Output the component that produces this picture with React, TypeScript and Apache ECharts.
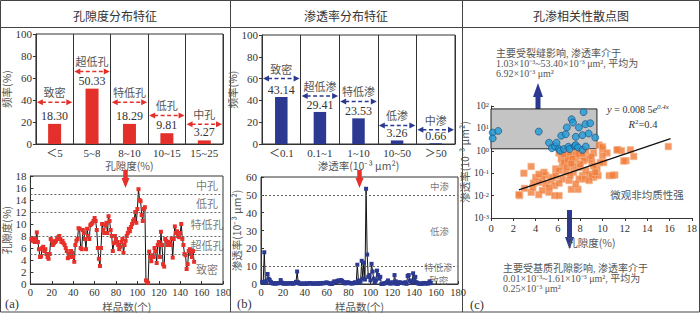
import React, { useEffect, useRef } from 'react';
import * as echarts from 'echarts';

const FONT = "'Liberation Serif', 'Noto Sans CJK SC', serif";
const CJK = "'Noto Sans CJK SC', 'Liberation Serif', sans-serif";

// ---- Panel (a) top: porosity class frequency
const poroCats = ['＜5', '5~8', '8~10', '10~15', '15~25'];
const poroFreq = [18.30, 50.33, 18.29, 9.81, 3.27];
const poroClassNames = ['致密', '超低孔', '特低孔', '低孔', '中孔'];
const poroClassArrowY = [38, 66, 38, 26, 18];

// ---- Panel (b) top: permeability class frequency
const permCats = ['＜0.1', '0.1~1', '1~10', '10~50', '＞50'];
const permFreq = [43.14, 29.41, 23.53, 3.26, 0.66];
const permClassNames = ['致密', '超低渗', '特低渗', '低渗', '中渗'];
const permClassArrowY = [60, 44, 39, 17, 13];

// ---- Panel (a) bottom: porosity per sample
const poroSeries = [
  7.5, 7.2, 7.6, 7.0, 7.5, 8.6, 7.0, 5.8, 4.5, 4.6,
  6.0, 6.2, 5.5, 5.8, 5.0, 4.5, 4.2, 5.0, 7.5, 7.2,
  6.5, 6.8, 7.0, 7.2, 7.5, 7.8, 8.0, 7.5, 7.0, 7.2,
  6.8, 6.5, 6.0, 5.5, 4.3, 5.0, 4.5, 5.5, 5.2, 4.5,
  3.7, 6.5, 7.2, 7.5, 9.3, 9.2, 6.0, 5.8, 9.0, 8.5,
  7.5, 5.8, 9.2, 8.0, 7.5, 9.8, 10.0, 10.2, 10.5, 11.0,
  10.5, 9.0, 6.0, 4.2, 3.0, 6.0, 10.0, 9.0, 8.5, 9.8,
  10.2, 8.5, 11.3, 10.5, 9.0, 8.0, 5.5, 6.8, 8.0, 7.5,
  7.0, 6.5, 5.8, 6.2, 7.0, 7.5, 5.2, 6.5, 7.2, 8.0,
  8.5, 9.2, 8.8, 9.5, 10.0, 10.5, 10.8, 12.0, 10.2, 12.5,
  15.8, 14.0, 13.8, 11.5, 10.5, 12.5, 12.8, 0.6, 0.4, 0.2,
  5.4, 4.5, 3.8, 4.8, 4.5, 6.0, 5.5, 3.5, 6.5, 7.0,
  4.5, 8.7, 6.5, 3.3, 2.9, 7.5, 7.2, 6.5, 7.0, 6.8,
  6.5, 7.6, 4.4, 7.5, 9.6, 8.5, 8.8, 8.0, 7.8, 8.5,
  10.0, 7.5, 6.5, 5.0, 4.8, 2.5, 3.3, 5.5, 5.8, 5.0,
  4.5, 5.5, 3.7,
];
const poroLimits = [5, 8, 12, 15];
const poroZoneLabels = ['中孔', '低孔', '特低孔', '超低孔', '致密'];
const poroZoneY = [16.5, 13.5, 10, 6.5, 2.5];
const poroZoneX = 165;

// ---- Panel (b) bottom: permeability per sample
const permSeries = [
  1.2, 0.8, 17.8, 1.5, 0.6, 5.6, 3.0, 2.2, 1.2, 0.5,
  0.3, 0.4, 0.2, 0.3, 0.5, 0.4, 0.6, 2.2, 0.8, 0.3,
  0.2, 0.4, 0.3, 0.2, 0.3, 0.5, 0.4, 0.3, 0.2, 0.3,
  0.5, 1.2, 7.0, 1.0, 0.3, 0.2, 0.1, 0.2, 0.3, 0.1,
  0.05, 0.2, 0.3, 0.4, 0.5, 0.3, 0.2, 0.1, 0.4, 0.3,
  0.2, 0.1, 0.5, 0.3, 0.2, 0.6, 0.4, 0.5, 0.7, 0.9,
  0.6, 0.4, 0.2, 0.1, 0.05, 0.8, 1.5, 1.2, 1.0, 1.8,
  2.0, 1.5, 2.2, 1.8, 1.2, 0.9, 0.3, 0.6, 1.0, 0.8,
  0.5, 0.4, 0.3, 0.4, 0.6, 1.0, 0.5, 10.8, 2.0, 0.8,
  1.5, 13.0, 3.0, 12.0, 2.5, 53.4, 16.5, 4.0, 5.0, 2.0,
  11.3, 7.0, 3.0, 1.0, 2.0, 7.5, 5.0, 3.0, 4.0, 0.02,
  0.01, 0.3, 0.4, 0.5, 1.0, 2.0, 0.8, 0.2, 0.5, 1.0,
  0.3, 5.0, 1.5, 0.1, 0.05, 1.0, 0.8, 0.6, 0.7, 0.5,
  0.4, 1.0, 0.1, 4.5, 5.0, 2.0, 1.5, 0.8, 6.0, 2.0,
  4.0, 1.0, 0.5, 0.2, 0.3, 0.05, 0.1, 0.4, 0.6, 0.3,
  0.2, 0.5, 0.3, 1.5, 0.5,
];
const permLimits = [10, 50];
const permZoneLabels = ['中渗', '低渗', '特低渗', '-致密'];
const permZoneY = [55, 30, 9.8, 2.4];
const permZoneX = [163, 163, 162, 161];

// ---- Panel (c): porosity (%) vs permeability (10^-3 μm²)
const fractureGroup = [
  [0.15, 6.5], [0.15, 3.6], [0.65, 7.7], [4.28, 7.2], [5.2, 2.3], [5.46, 1.3],
  [5.75, 1.55], [5.87, 2.3], [6.1, 1.2], [6.2, 1.0], [6.3, 4.7], [6.55, 1.2],
  [6.7, 5.5], [6.8, 11], [6.93, 1.5], [7.05, 1.2], [7.23, 25.7], [7.35, 18.2],
  [7.5, 1.65], [7.6, 4.2], [7.6, 1.8], [7.8, 1.4], [7.88, 11], [8.2, 5.0],
  [8.2, 1.1], [8.3, 53.4], [8.47, 15.5], [8.5, 1.55], [8.76, 5.9], [8.9, 17],
  [9.35, 3.9],
];
const matrixGroup = [
  [6.1, 0.8], [6.8, 0.8], [7.6, 0.85], [10.0, 1.17], [10.4, 0.8], [11.4, 1.1],
  [11.7, 1.0], [12.5, 1.1], [12.8, 0.56], [12.1, 0.36], [10.0, 0.6], [10.1, 0.3],
  [15.9, 1.55], [3.6, 0.2], [2.95, 0.1], [2.57, 0.01], [3.0, 0.021], [3.6, 0.014],
  [3.8, 0.036], [4.28, 0.011], [4.6, 0.017], [4.9, 0.08], [5.2, 0.014], [5.7, 0.01],
  [6.1, 0.01], [7.2, 0.019], [7.8, 0.019], [5.8, 0.155], [6.4, 0.21], [6.7, 0.11],
  [7.0, 0.3], [7.4, 0.11], [7.9, 0.18], [8.2, 0.078], [8.5, 0.13], [8.8, 0.09],
  [9.2, 0.065], [9.5, 0.155], [9.6, 0.078], [10.6, 0.078], [11.1, 0.083], [6.7, 0.5],
  [6.3, 0.43], [7.6, 0.43], [8.0, 0.6], [8.5, 0.5], [8.8, 0.43], [9.05, 0.3],
  [9.2, 0.21], [6.4, 0.055], [7.0, 0.047], [4.6, 0.055], [4.3, 0.039], [4.9, 0.033],
  [5.4, 0.047], [5.7, 0.028], [6.1, 0.036], [5.2, 0.023], [3.75, 0.023], [4.0, 0.065],
  [5.5, 0.065], [7.9, 0.055], [8.4, 0.055], [9.05, 0.078], [9.8, 0.3], [6.55, 0.3],
  [6.1, 0.13], [7.3, 0.7], [8.5, 1.0], [9.2, 0.8], [6.4, 1.0], [7.9, 0.9],
  [8.3, 0.36], [7.4, 0.21], [6.8, 0.18], [4.75, 0.11], [4.3, 0.09], [5.8, 0.078],
  [7.1, 0.078], [8.8, 0.047], [7.6, 0.033], [9.35, 0.11], [10.9, 0.08], [11.9, 0.35],
  [2.5, 0.011], [7.0, 0.65], [7.8, 0.7], [8.2, 0.75], [6.9, 0.4], [7.3, 0.45],
  [9.0, 0.55], [8.0, 0.25], [7.2, 0.27], [6.5, 0.7], [9.7, 1.8], [10.0, 1.5], [11.3, 1.1],
];
const trendLine = [[2.5, 0.018], [16.1, 3.5]];
const fractureBox = [[0, 1.23], [9.5, 74]];

function arrowRenderer(names: string[], color: string) {
  return (params: any, api: any) => {
    const p = api.coord([api.value(0), api.value(1)]);
    const w = api.size([1, 0])[0];
    const xl = p[0] - w / 2 + 1;
    const xr = p[0] + w / 2 - 1;
    const y = p[1];
    return {
      type: 'group',
      children: [
        { type: 'line', shape: { x1: xl + 5, y1: y, x2: xr - 5, y2: y }, style: { stroke: color, lineWidth: 1.5, lineDash: [4, 2.5] } },
        { type: 'polygon', shape: { points: [[xl, y], [xl + 6, y - 3], [xl + 6, y + 3]] }, style: { fill: color } },
        { type: 'polygon', shape: { points: [[xr, y], [xr - 6, y - 3], [xr - 6, y + 3]] }, style: { fill: color } },
        {
          type: 'text', x: p[0], y: y - 10,
          style: { text: names[params.dataIndex], fill: '#555', fontSize: 11, fontFamily: CJK, align: 'center', verticalAlign: 'middle' },
        },
      ],
    };
  };
}

function fatArrow(cx: number, yTail: number, yTip: number, shaftW: number, headW: number, headLen: number, color: string) {
  const dir = yTip > yTail ? 1 : -1;
  const yb = yTip - dir * headLen;
  return {
    type: 'polygon',
    shape: {
      points: [
        [cx - shaftW / 2, yTail], [cx + shaftW / 2, yTail], [cx + shaftW / 2, yb],
        [cx + headW / 2, yb], [cx, yTip], [cx - headW / 2, yb], [cx - shaftW / 2, yb],
      ],
    },
    style: { fill: color },
  };
}

function txt(x: number, y: number, text: string, opts: any = {}) {
  return {
    type: 'text', x, y,
    style: {
      text, fill: opts.fill || '#444', fontSize: opts.fontSize || 10, fontFamily: opts.fontFamily || FONT,
      align: opts.align || 'left', verticalAlign: 'middle', rich: opts.rich, fontStyle: opts.fontStyle,
    },
  };
}

const axisLine = { show: true, lineStyle: { color: '#333', width: 1 } };
const lbl = { fontFamily: FONT, fontSize: 11, color: '#333' };
const nameStyle = { fontFamily: CJK, fontSize: 11, color: '#555' };
const yNameStyle = { fontFamily: CJK, fontSize: 10.5, color: '#555' };

function zoneData(labels: string[], xs: number | number[], ys: number[]) {
  return labels.map((n, i) => ({ name: n, value: [Array.isArray(xs) ? xs[i] : xs, ys[i]] }));
}

export default function App() {
  const ref = useRef<HTMLDivElement>(null);
  useEffect(() => {
    document.body.style.margin = '0';
    const chart = echarts.init(ref.current!, undefined, { renderer: 'svg' });
    const zoneLabel = { show: true, position: 'inside', formatter: '{b}', fontFamily: CJK, fontSize: 11, color: '#555' };
    const dotted = { type: [2, 2], color: '#666', width: 1 };
    const catX = (gridIndex: number, data: string[], name: string) => ({
      gridIndex, type: 'category', data, axisLine, axisTick: { show: false },
      axisLabel: { ...lbl, fontSize: 11, margin: 3, interval: 0 },
      splitLine: { show: true, interval: 0, lineStyle: { color: '#333' } },
      name, nameLocation: 'middle', nameGap: 16, nameTextStyle: { ...nameStyle, fontSize: 10.5 },
    });
    const sampleX = (gridIndex: number) => ({
      gridIndex, type: 'value', min: 0, max: 180, interval: 20, axisLine,
      axisTick: { inside: true, length: 3, lineStyle: { color: '#333' } }, axisLabel: { ...lbl, fontSize: 10.5, margin: 3 },
      splitLine: { show: false }, name: '样品数(个)', nameLocation: 'middle', nameGap: 17,
      nameTextStyle: { ...nameStyle, fontSize: 10.5 },
    });
    const option: any = {
      animation: false,
      backgroundColor: '#fff',
      grid: [
        { left: 29, top: 34, width: 194, height: 110, show: true, borderColor: '#333', borderWidth: 1 },
        { left: 28, top: 176, width: 195, height: 108, show: true, borderColor: '#333', borderWidth: 1 },
        { left: 262, top: 35, width: 193, height: 109, show: true, borderColor: '#333', borderWidth: 1 },
        { left: 261, top: 177, width: 197, height: 107, show: true, borderColor: '#333', borderWidth: 1 },
        { left: 491, top: 106, width: 203, height: 112, show: false },
      ],
      xAxis: [
        catX(0, poroCats, '孔隙度(%)'),
        sampleX(1),
        catX(2, permCats, '渗透率(10⁻³ μm²)'),
        sampleX(3),
        {
          gridIndex: 4, type: 'value', min: 0, max: 18, interval: 2, axisLine,
          axisTick: { show: true, length: 3, lineStyle: { color: '#333' } }, axisLabel: { ...lbl, fontSize: 10.5, margin: 5 },
          splitLine: { show: false }, name: '孔隙度(%)', nameLocation: 'middle', nameGap: 19,
          nameTextStyle: { ...nameStyle, fontSize: 10.5 },
        },
      ],
      yAxis: [
        {
          gridIndex: 0, type: 'value', min: 0, max: 100, interval: 20, axisLine,
          axisTick: { show: true, length: 3, lineStyle: { color: '#333' } }, axisLabel: { ...lbl, margin: 4 },
          splitLine: { show: false }, name: '频率(%)', nameLocation: 'middle', nameGap: 13, nameTextStyle: yNameStyle,
        },
        {
          gridIndex: 1, type: 'value', min: 0, max: 18, interval: 2, axisLine,
          axisTick: { inside: true, length: 3, lineStyle: { color: '#333' } }, axisLabel: { ...lbl, margin: 4 },
          splitLine: { show: false }, name: '孔隙度(%)', nameLocation: 'middle', nameGap: 12, nameTextStyle: yNameStyle,
        },
        {
          gridIndex: 2, type: 'value', min: 0, max: 100, interval: 20, axisLine,
          axisTick: { show: true, length: 3, lineStyle: { color: '#333' } }, axisLabel: { ...lbl, margin: 4 },
          splitLine: { show: false }, name: '频率(%)', nameLocation: 'middle', nameGap: 17, nameTextStyle: yNameStyle,
        },
        {
          gridIndex: 3, type: 'value', min: 0, max: 60, interval: 10, axisLine,
          axisTick: { inside: true, length: 3, lineStyle: { color: '#333' } }, axisLabel: { ...lbl, margin: 4 },
          splitLine: { show: false }, name: '渗透率(10⁻³ μm²)', nameLocation: 'middle', nameGap: 16, nameTextStyle: yNameStyle,
        },
        {
          gridIndex: 4, type: 'log', logBase: 10, min: 0.001, max: 100, axisLine,
          axisTick: { show: true, inside: true, length: 3, lineStyle: { color: '#333' } },
          axisLabel: {
            margin: 2,
            formatter: (v: number) => '{b|10}{s|' + String(Math.round(Math.log10(v))) + '}',
            rich: {
              b: { fontFamily: FONT, fontSize: 9.5, color: '#333' },
              s: { fontFamily: FONT, fontSize: 6.5, color: '#333', verticalAlign: 'top' },
            },
          },
          splitLine: { show: false }, name: '渗透率(10⁻³ μm²)', nameLocation: 'middle', nameGap: 19, nameTextStyle: yNameStyle,
        },
      ],
      series: [
        {
          type: 'bar', xAxisIndex: 0, yAxisIndex: 0, data: poroFreq, barWidth: 13,
          itemStyle: { color: '#e3302a' },
          label: { show: true, position: 'top', distance: 2, fontFamily: FONT, fontSize: 12, color: '#333', formatter: (p: any) => p.value.toFixed(2) },
        },
        {
          type: 'custom', xAxisIndex: 0, yAxisIndex: 0, data: poroClassArrowY.map((v, i) => [i, v]),
          renderItem: arrowRenderer(poroClassNames, '#e3302a'), z: 5,
        },
        {
          type: 'line', xAxisIndex: 1, yAxisIndex: 1, data: poroSeries.map((v, i) => [i + 1, v]),
          symbol: 'rect', symbolSize: 4, itemStyle: { color: '#e8302a' }, lineStyle: { color: '#111', width: 1 },
          markLine: { silent: true, symbol: 'none', label: { show: false }, lineStyle: dotted, data: poroLimits.map((v) => ({ yAxis: v })) },
        },
        {
          type: 'scatter', xAxisIndex: 1, yAxisIndex: 1, data: zoneData(poroZoneLabels, poroZoneX, poroZoneY),
          symbolSize: 1, itemStyle: { color: 'rgba(0,0,0,0)' }, label: zoneLabel,
        },
        {
          type: 'bar', xAxisIndex: 2, yAxisIndex: 2, data: permFreq, barWidth: 12.5,
          itemStyle: { color: '#2b3990' },
          label: { show: true, position: 'top', distance: 1, fontFamily: FONT, fontSize: 12, color: '#333', formatter: (p: any) => p.value.toFixed(2) },
        },
        {
          type: 'custom', xAxisIndex: 2, yAxisIndex: 2, data: permClassArrowY.map((v, i) => [i, v]),
          renderItem: arrowRenderer(permClassNames, '#2b3990'), z: 5,
        },
        {
          type: 'line', xAxisIndex: 3, yAxisIndex: 3, data: permSeries.map((v, i) => [i + 1, v]),
          symbol: 'rect', symbolSize: 4, itemStyle: { color: '#2b3990' }, lineStyle: { color: '#111', width: 1 },
          markLine: { silent: true, symbol: 'none', label: { show: false }, lineStyle: dotted, data: permLimits.map((v) => ({ yAxis: v })) },
        },
        {
          type: 'scatter', xAxisIndex: 3, yAxisIndex: 3, data: zoneData(permZoneLabels, permZoneX, permZoneY),
          symbolSize: 1, itemStyle: { color: 'rgba(0,0,0,0)' }, label: { ...zoneLabel, fontSize: 9.5 },
        },
        {
          type: 'scatter', xAxisIndex: 4, yAxisIndex: 4, data: fractureGroup, symbol: 'circle', symbolSize: 7,
          itemStyle: { color: '#1e9bd7', borderColor: '#1b4a78', borderWidth: 0.8 }, z: 3,
          markArea: {
            silent: true,
            itemStyle: { color: '#c4c4c4', borderColor: '#222', borderWidth: 1 },
            data: [[{ coord: fractureBox[0] }, { coord: fractureBox[1] }]],
          },
        },
        {
          type: 'scatter', xAxisIndex: 4, yAxisIndex: 4, data: matrixGroup, symbol: 'rect', symbolSize: 6.5,
          itemStyle: { color: '#f07c3a', borderColor: '#f6b48a', borderWidth: 0.8 }, z: 2,
        },
        {
          type: 'line', xAxisIndex: 4, yAxisIndex: 4, data: trendLine, symbol: 'none',
          lineStyle: { color: '#111', width: 1.2 }, z: 4,
        },
      ],
      graphic: [
        { type: 'rect', shape: { x: 0.5, y: 0.5, width: 699, height: 311.5 }, style: { fill: 'none', stroke: '#444', lineWidth: 1 }, silent: true },
        { type: 'line', shape: { x1: 0, y1: 27.5, x2: 700, y2: 27.5 }, style: { stroke: '#444', lineWidth: 1 } },
        { type: 'line', shape: { x1: 230.5, y1: 0, x2: 230.5, y2: 312 }, style: { stroke: '#444', lineWidth: 1 } },
        { type: 'line', shape: { x1: 462.5, y1: 0, x2: 462.5, y2: 312 }, style: { stroke: '#444', lineWidth: 1 } },
        txt(115, 15, '孔隙度分布特征', { align: 'center', fontSize: 12, fontFamily: CJK, fill: '#333' }),
        txt(346, 15, '渗透率分布特征', { align: 'center', fontSize: 12, fontFamily: CJK, fill: '#333' }),
        txt(581, 15, '孔渗相关性散点图', { align: 'center', fontSize: 12, fontFamily: CJK, fill: '#333' }),
        fatArrow(125.5, 170, 188, 4.5, 8, 10, '#e8302a'),
        fatArrow(359.5, 170, 188, 4.5, 8, 10, '#e8302a'),
        fatArrow(538, 122, 83, 5, 10, 14, '#2b3990'),
        fatArrow(569.5, 210, 249, 5, 9, 12, '#2b3990'),
        txt(5, 304, '(a)', { fontSize: 12.5, fill: '#333' }),
        txt(237, 304, '(b)', { fontSize: 12.5, fill: '#333' }),
        txt(470, 305, '(c)', { fontSize: 12.5, fill: '#333' }),
        txt(496, 53, '主要受裂缝影响, 渗透率介于', { fill: '#555' }),
        txt(496, 63, '1.03×10⁻³~53.40×10⁻³ μm², 平均为', { fill: '#555' }),
        txt(496, 73, '6.92×10⁻³ μm²', { fill: '#555' }),
        txt(503, 268, '主要受基质孔隙影响, 渗透率介于', { fill: '#555' }),
        txt(503, 278, '0.01×10⁻³~1.61×10⁻³ μm², 平均为', { fill: '#555' }),
        txt(503, 288, '0.25×10⁻³ μm²', { fill: '#555' }),
        txt(647, 194, '微观非均质性强', { align: 'center', fontSize: 10.5, fontFamily: CJK, fill: '#555' }),
        txt(638, 109, '{i|y} = 0.008 5{i|e}{s|0.4x}', {
          align: 'center', fill: '#333',
          rich: {
            i: { fontStyle: 'italic', fontFamily: FONT, fontSize: 10.5, color: '#333' },
            s: { fontStyle: 'italic', fontFamily: FONT, fontSize: 7, color: '#333', verticalAlign: 'top' },
          },
        }),
        txt(643, 124, '{i|R}{s|2}=0.4', {
          align: 'center', fill: '#333', fontSize: 10.5,
          rich: {
            i: { fontStyle: 'italic', fontFamily: FONT, fontSize: 10.5, color: '#333' },
            s: { fontFamily: FONT, fontSize: 7, color: '#333', verticalAlign: 'top' },
          },
        }),
      ],
    };
    chart.setOption(option);
    return () => chart.dispose();
  }, []);
  return <div ref={ref} style={{ position: 'fixed', left: 0, top: 0, width: 700, height: 314 }} />;
}
